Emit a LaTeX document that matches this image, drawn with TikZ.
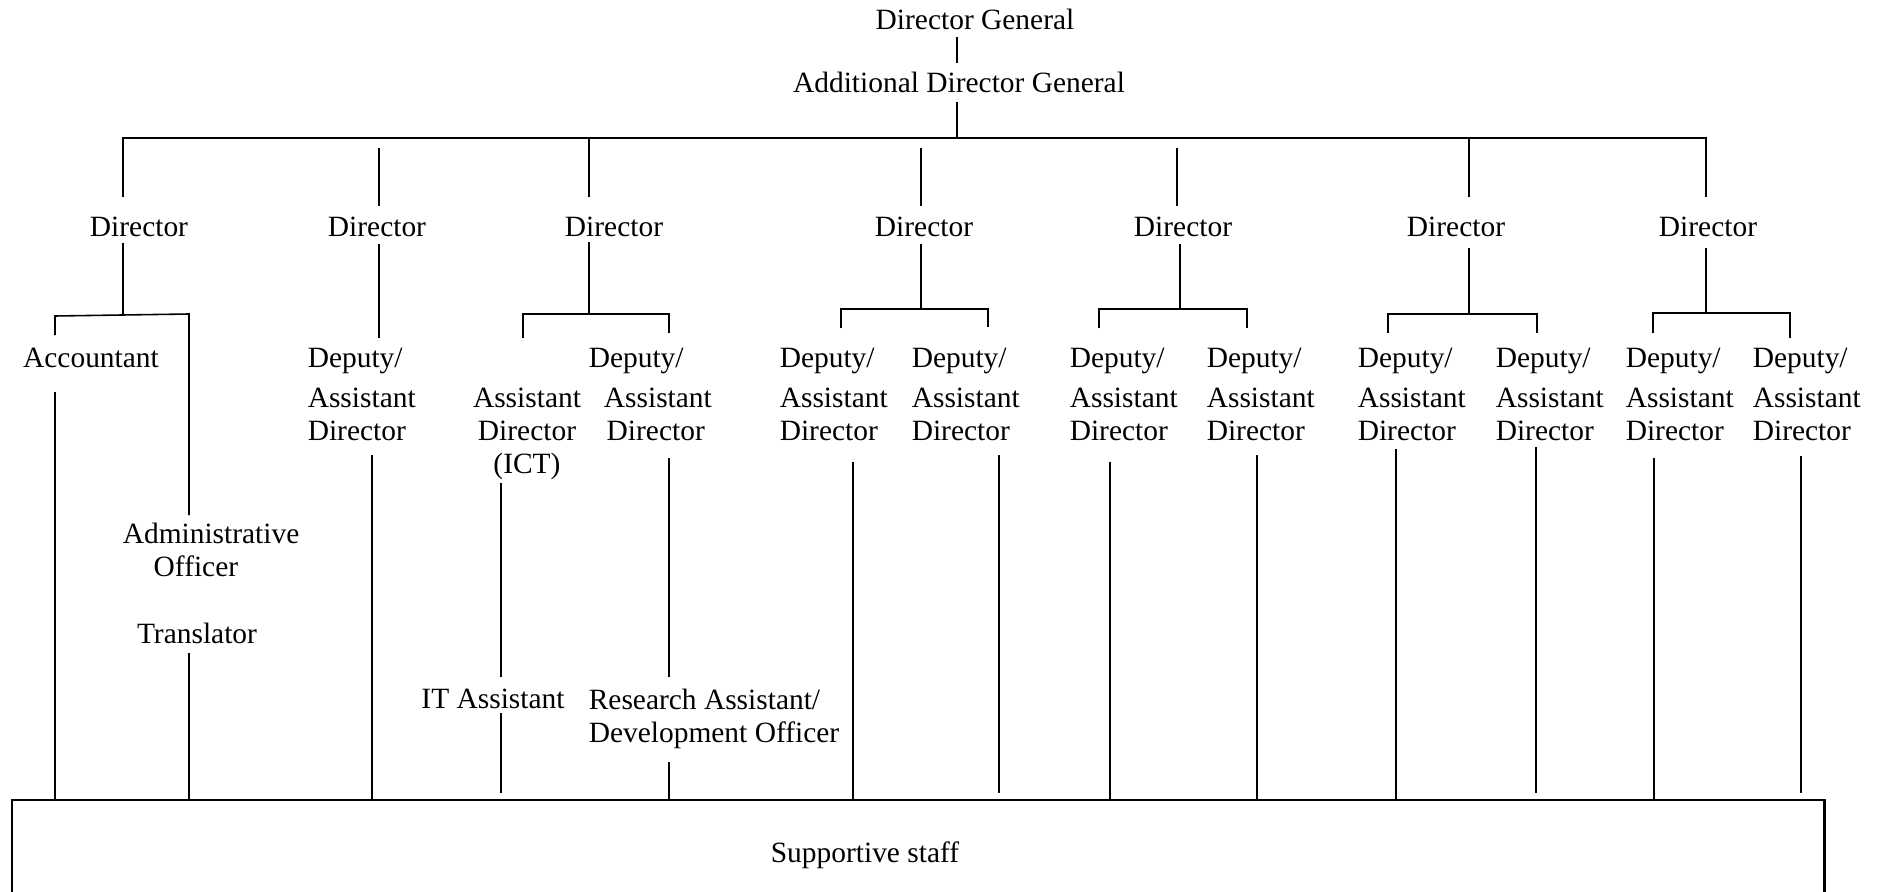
\documentclass[tikz,border=0pt]{standalone}
\usepackage{fontspec}
\setmainfont{Liberation Serif}
\begin{document}
\begin{tikzpicture}[x=0.01cm,y=-0.01cm,line width=0.45pt,
    post/.style={inner sep=0pt,font=\fontsize{8.37}{9.39}\selectfont},
    postb/.style={post,anchor=base},
    deputy/.style={post,align=left,anchor=north west},
    heavy/.style={line width=0.7pt}]
  \useasboundingbox (0,0) rectangle (1879,891);
  \clip (0,0) rectangle (1879,891);
  % posts
  \node[postb] (dg) at (975,30) {Director General};
  \node[postb] (adg) at (959,93) {Additional Director General};
  \foreach \i/\x in {1/139,2/377,3/614,4/924,5/1183,6/1456,7/1708}
    \node[postb] (dir\i) at (\x,237) {Director};
  \foreach \nm/\x in {d2/307,d4a/779,d4b/911,d5a/1069,d5b/1206,d6a/1357,d6b/1495,d7a/1625,d7b/1752}
    \node[deputy] (\nm) at (\x,347) {Deputy/\\[2pt]Assistant\\Director};
  \node[deputy] (d3) at (588,347) {Deputy/\\[2pt]\hspace*{4.3pt}Assistant\\\hspace*{5.1pt}Director};
  \node[postb] (acc) at (91,367) {Accountant};
  \node[deputy] (adm) at (122,522) {Administrative\\\hspace*{8.8pt}Officer};
  \node[postb] (trans) at (197,643) {Translator};
  \node[post,align=center,anchor=north] (ict) at (527,387) {Assistant\\Director\\(ICT)};
  \node[postb] (itass) at (493,708) {IT Assistant};
  \node[deputy] (res) at (588,688) {Research Assistant/\\Development Officer};
  \node[draw,heavy,anchor=north west,inner sep=0pt,minimum width=18.11cm,minimum height=3cm] (box) at (11,799) {};
  \node[postb] (staff) at (865,862) {Supportive staff};
  % top chain
  \coordinate (barL) at (123,138);
  \coordinate (barR) at (1706,138);
  \draw (957,37) -- (957,63);
  \draw (957,102) -- (957,0 |- barL);
  \draw[heavy] (123,197) -- (barL) -- (barR) -- (1706,197);
  \draw (589,0 |- barL) -- (589,197);
  \draw (1469,0 |- barL) -- (1469,197);
  \foreach \x in {379,921,1177}
    \draw (\x,148) -- (\x,206);
  % below the directors
  \foreach \x/\ya/\yb in {123/243/314,379/244/338,589/242/314,921/244/309,1180/244/309,1469/248/314,1706/248/314}
    \draw (\x,\ya) -- (\x,\yb);
  \draw (55,335) -- (55,316) -- (189,314) -- (189,515);
  \foreach \xa/\xb/\y/\ya/\yb in {523/669/314/338/333,841/988/309/328/327,1099/1247/309/328/328,1388/1537/314/333/333,1653/1790/313/333/338}
    \draw (\xa,\ya) -- (\xa,\y) -- (\xb,\y) -- (\xb,\yb);
  % down to the staff
  \draw (501,483) -- (501,677);
  \draw (669,458) -- (669,677);
  \foreach \x/\ya in {55/392,189/653,372/455,669/762,853/462,1110/462,1257/455,1396/449,1654/458}
    \draw (\x,\ya) -- (\x,0 |- box.north);
  \foreach \x/\ya in {501/713,999/455,1536/447,1801/456}
    \draw (\x,\ya) -- (\x,793);
\end{tikzpicture}
\end{document}
